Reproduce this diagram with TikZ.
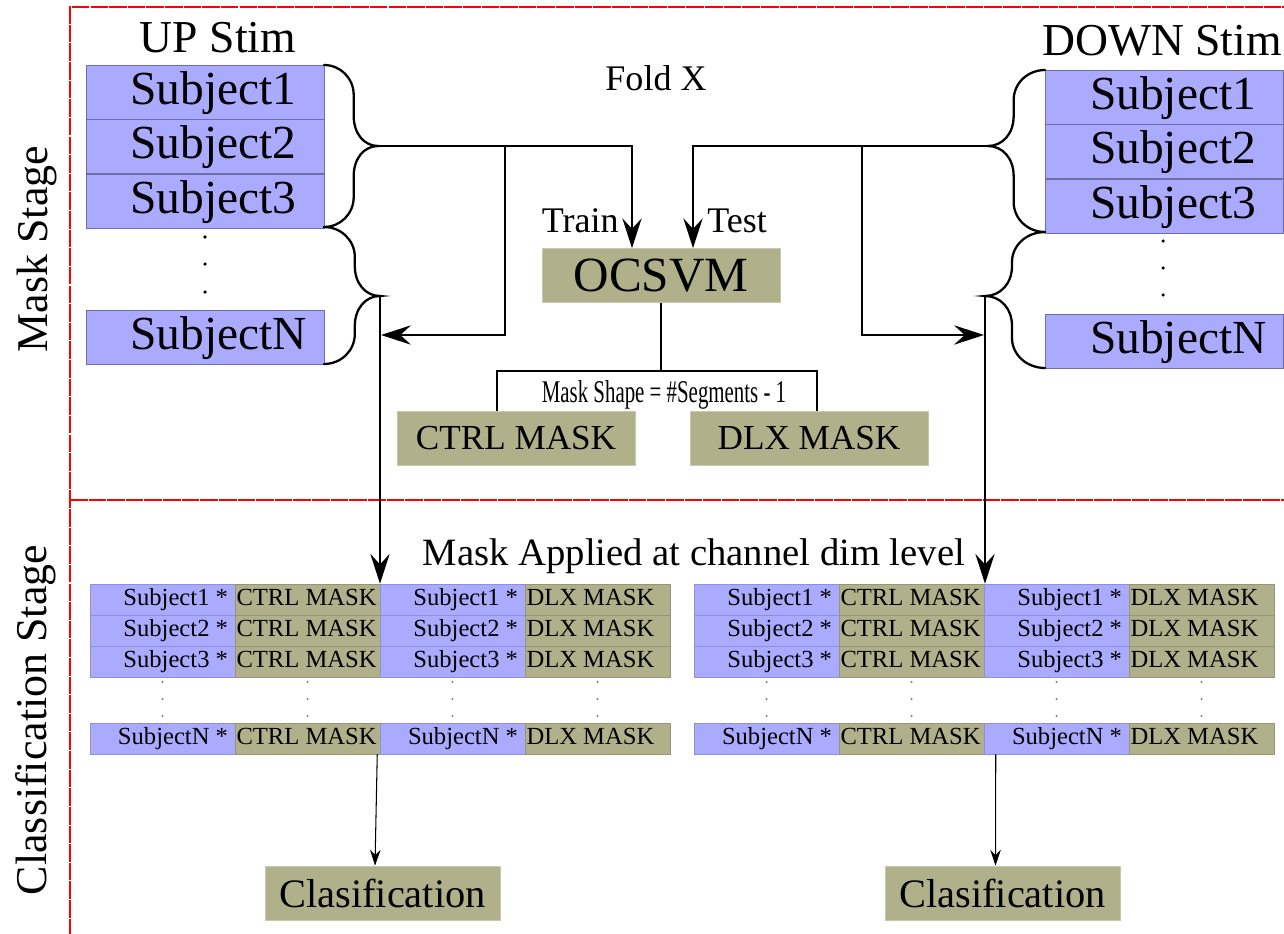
\documentclass[tikz,border=0pt]{standalone}
\usepackage{graphicx}
\usepackage{fontspec}
\setmainfont{Liberation Serif}
\usetikzlibrary{arrows.meta,calc,positioning}

\definecolor{subjblue}{RGB}{170,170,255}
\definecolor{maskolive}{RGB}{176,176,138}

\tikzset{
  stage frame/.style={draw=red, line width=1.4pt, dash pattern=on 10pt off 0.6pt},
  stage label/.style={rotate=90, inner sep=0pt, font=\fontsize{25}{30}\selectfont},
  title/.style={inner sep=0pt, font=\fontsize{26}{30}\selectfont},
  small title/.style={inner sep=0pt, font=\fontsize{20.5}{24}\selectfont},
  subjbox/.style={draw=subjblue!65!black, line width=0.4pt, fill=subjblue,
    minimum width=4.76cm, minimum height=1.08cm, inner sep=0pt,
    text height=19pt, text depth=5pt, font=\fontsize{27}{30}\selectfont},
  maskbox/.style={draw=maskolive!70!white, line width=0.4pt, fill=maskolive,
    minimum height=1.08cm, inner sep=0pt},
  subjcell/.style={draw=subjblue!85!black, line width=0.3pt, fill=subjblue,
    minimum width=2.9cm, minimum height=0.62cm, inner sep=0pt,
    text height=9.5pt, text depth=2.5pt, font=\fontsize{14}{16}\selectfont},
  maskcell/.style={draw=maskolive!85!black, line width=0.3pt, fill=maskolive,
    minimum width=2.9cm, minimum height=0.62cm, inner sep=0pt,
    text height=9.5pt, text depth=2.5pt, font=\fontsize{14}{16}\selectfont},
  link/.style={draw=black, line width=0.9pt},
  arr/.style={link, -{Stealth[length=17pt,width=11pt,inset=6pt]}},
  thin arr/.style={draw=black, line width=0.6pt, -{Stealth[length=9pt,width=6pt,inset=3pt]}},
  brace line/.style={draw=black, line width=1.3pt, line cap=round},
}

% text of the big subject boxes starts left of centre
\newcommand{\subjlbl}[1]{\makebox[2.98cm][l]{#1}}
% text in the grid cells
\newcommand{\cellr}[1]{\makebox[2.62cm][r]{#1}}
\newcommand{\celll}[1]{\makebox[2.84cm][l]{#1}}

% curly brace: edge x, top y, bottom y, tip x, tip y, tip name
\newcommand{\stimbrace}[6]{%
  \pgfmathsetmacro{\bmid}{#1+0.55*(#4-#1)}
  \pgfmathsetmacro{\bq}{#1+0.3*(#4-#1)}
  \pgfmathsetmacro{\bt}{#1+0.75*(#4-#1)}
  \coordinate (#6) at (#4,#5);
  \draw[brace line] (#1,#2) .. controls (\bq,#2) and (\bmid,#2+13) .. (\bmid,#2+30)
    -- (\bmid,#5-30) .. controls (\bmid,#5-12) and (\bt,#5) .. (#6)
    .. controls (\bt,#5) and (\bmid,#5+12) .. (\bmid,#5+30)
    -- (\bmid,#3-30) .. controls (\bmid,#3-13) and (\bq,#3) .. (#1,#3);
}

\begin{document}
\begin{tikzpicture}[x=0.02cm, y=-0.02cm]
  \useasboundingbox (0,0) rectangle (1284,933);

  % stages
  \draw[stage frame] (1300,7) -| (70,950);
  \draw[stage frame] (70,500) -- (1300,500);
  \node[stage label] (maskstage) at (37,249) {Mask Stage};
  \node[stage label] (classstage) at (36,720) {Classification Stage};

  % UP stim
  \node[title, anchor=base] (uptitle) at (218,52) {UP Stim};
  \node[subjbox] (up1) at (205,92) {\subjlbl{Subject1}};
  \node[subjbox, below=0pt of up1] (up2) {\subjlbl{Subject2}};
  \node[subjbox, below=0pt of up2] (up3) {\subjlbl{Subject3}};
  \node[subjbox] (upn) at (205,337) {\subjlbl{SubjectN}};
  \foreach \y in {237,264,292}
    \fill (205,\y) circle[radius=1pt];

  % DOWN stim
  \node[title, anchor=base] (dntitle) at (1162,55) {DOWN Stim};
  \node[subjbox] (dn1) at (1164.5,97) {\subjlbl{Subject1}};
  \node[subjbox, below=0pt of dn1] (dn2) {\subjlbl{Subject2}};
  \node[subjbox, below=0pt of dn2] (dn3) {\subjlbl{Subject3}};
  \node[subjbox] (dnn) at (1164.5,341.5) {\subjlbl{SubjectN}};
  \foreach \y in {241,268,295}
    \fill (1163,\y) circle[radius=1pt];

  \stimbrace{324}{65}{227}{378}{146}{ltip1}
  \stimbrace{324}{227}{364}{380}{296}{ltip2}
  \stimbrace{1045}{70}{232}{988}{146}{rtip1}
  \stimbrace{1045}{232}{368}{985}{296}{rtip2}

  % OCSVM and masks
  \node[small title, anchor=base] (fold) at (656,90) {Fold X};
  \node[maskbox, minimum width=4.76cm, font=\fontsize{28}{30}\selectfont] (ocsvm) at (661,275.5) {OCSVM};
  \node[small title, anchor=base east] (train) at (619,232) {Train};
  \node[small title, anchor=base west] (test) at (707,232) {Test};
  \node[maskbox, minimum width=4.76cm, font=\fontsize{20}{24}\selectfont] (ctrl) at (516,438) {CTRL MASK};
  \node[maskbox, minimum width=4.76cm, font=\fontsize{20}{24}\selectfont] (dlx) at (809,438) {DLX MASK};
  \node[inner sep=0pt, anchor=base, font=\fontsize{18}{20}\selectfont] (mshape) at (664,402)
    {\scalebox{0.66}[1]{Mask Shape = \#Segments - 1}};

  \coordinate (mleft) at (497,371);
  \coordinate (mright) at (817,371);
  \draw[link] (ocsvm.south) -- (ocsvm.south |- mleft);
  \draw[link] (ctrl.north -| mleft) -- (mleft) -- (mright) -- (dlx.north -| mright);

  \coordinate (lsplit) at (505,146);
  \coordinate (rsplit) at (862,146);
  \draw[arr] (ltip1) -| ($(ocsvm.north)+(-29,0)$);
  \draw[arr] (rtip1) -| ($(ocsvm.north)+(32,0)$);
  \draw[arr] (lsplit) |- ($(ltip2)+(1,39)$);
  \draw[arr] (rsplit) |- ($(rtip2)+(-1,39)$);

  % masked subjects
  \node[inner sep=0pt, anchor=base, font=\fontsize{22}{26}\selectfont] (applied) at (694,565)
    {Mask Applied at channel dim level};
  \foreach \grid/\gx in {up/90, dn/694}
    \foreach \row/\ry/\subj in {1/599.5/1, 2/630.5/2, 3/661.5/3, n/738.5/N} {
      \node[subjcell] (\grid\row a) at ({\gx+72.5},\ry) {\cellr{Subject\subj{} *}};
      \node[maskcell] (\grid\row b) at ({\gx+217.5},\ry) {\celll{CTRL MASK}};
      \node[subjcell] (\grid\row c) at ({\gx+362.5},\ry) {\cellr{Subject\subj{} *}};
      \node[maskcell] (\grid\row d) at ({\gx+507.5},\ry) {\celll{DLX MASK}};
    }
  \foreach \gx in {90,694}
    \foreach \cx in {72.5,217.5,362.5,507.5}
      \foreach \dy in {682,699,716}
        \fill[gray] ({\gx+\cx},\dy) circle[radius=0.7pt];

  \draw[arr] (ltip2) -- (ltip2 |- up1b.north);
  \draw[arr] (rtip2) -- (rtip2 |- dn1b.north);

  % classification
  \node[maskbox, minimum width=4.7cm, font=\fontsize{23}{26}\selectfont] (clsup) at (382.5,893) {Clasification};
  \node[maskbox, minimum width=4.7cm, font=\fontsize{23}{26}\selectfont] (clsdn) at (1002.5,893) {Clasification};
  \draw[thin arr] ([xshift=-0.06cm]upnb.south east) -- ([xshift=-0.15cm]clsup.north);
  \draw[thin arr] ([xshift=0.24cm]dnnc.south west) -- ([xshift=-0.14cm]clsdn.north);
\end{tikzpicture}
\end{document}
